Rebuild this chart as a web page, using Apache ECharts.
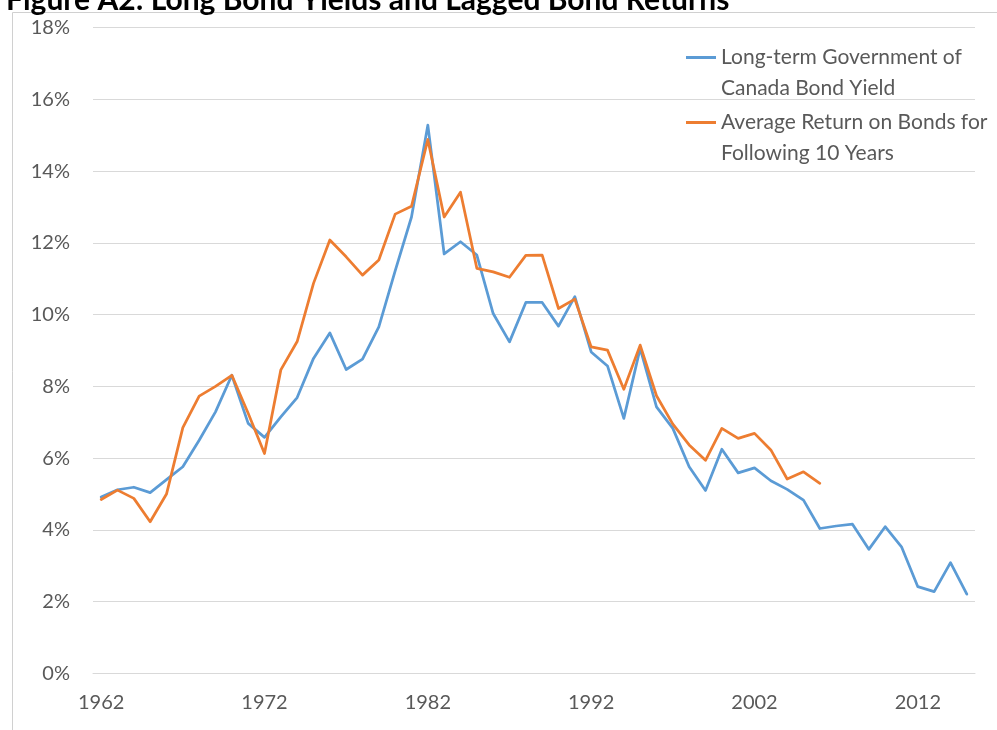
<!DOCTYPE html>
<html>
<head>
<meta charset="utf-8">
<script src="https://cdn.jsdelivr.net/npm/echarts@6/dist/echarts.min.js"></script>
<style>
  html, body { margin: 0; padding: 0; background: #fff; }
  #chart { width: 997px; height: 730px; }
</style>
</head>
<body>
<div id="chart"></div>
<script>
// years on the category axis
const years = []
for (let y = 1962; y <= 2015; y++) years.push(String(y))

// Long-term Government of Canada bond yield (%)
const bondYield = [
  4.92, 5.12, 5.19, 5.04, 5.40, 5.76, 6.50, 7.29, 8.31, 6.97,
  6.58, 7.15, 7.69, 8.78, 9.49, 8.47, 8.76, 9.66, 11.22, 12.72,
  15.28, 11.69, 12.03, 11.66, 10.03, 9.24, 10.34, 10.34, 9.68, 10.50,
  8.96, 8.57, 7.11, 9.06, 7.43, 6.83, 5.76, 5.10, 6.25, 5.59,
  5.73, 5.37, 5.13, 4.83, 4.04, 4.11, 4.16, 3.46, 4.09, 3.53,
  2.42, 2.28, 3.09, 2.21
]

// average return on bonds over the following 10 years (%), ends 2006
const laggedReturn = [
  4.85, 5.11, 4.88, 4.23, 5.00, 6.85, 7.73, 8.00, 8.31, 7.25,
  6.13, 8.46, 9.25, 10.87, 12.08, 11.61, 11.10, 11.52, 12.80, 13.02,
  14.88, 12.72, 13.41, 11.29, 11.19, 11.04, 11.65, 11.66, 10.17, 10.43,
  9.10, 9.01, 7.92, 9.15, 7.74, 6.95, 6.37, 5.94, 6.83, 6.55,
  6.69, 6.23, 5.42, 5.62, 5.30
]

const seriesNames = [
  'Long-term Government of\nCanada Bond Yield',
  'Average Return on Bonds for\nFollowing 10 Years'
]

const font = 'Lato'
const gray = '#595959'
const gridGray = '#d9d9d9'

// short legend line placed level with the first text line
const legendIcon = 'path://M0,14h30v3h-30z M0,0h0.01v0.01z M0,62h0.01v0.01z'

const chart = echarts.init(document.getElementById('chart'))
chart.setOption({
  animation: false,
  color: ['#5b9bd5', '#ed7d31'],
  graphic: [
    {
      type: 'text',
      left: 6,
      top: -15,
      style: {
        text: 'Figure A2: Long Bond Yields and Lagged Bond Returns',
        fontFamily: font,
        fontWeight: 'bold',
        fontSize: 30,
        fill: '#000'
      }
    },
    {
      type: 'rect',
      shape: { x: 12.5, y: 12.5, width: 1000, height: 1000 },
      style: { fill: '#fff', stroke: '#d0d0d0', lineWidth: 1 },
      z: -1
    }
  ],
  grid: { left: 93, right: 22, top: 27.5, bottom: 56.5 },
  legend: {
    orient: 'vertical',
    left: 686,
    top: 42,
    padding: 0,
    itemGap: 3,
    itemWidth: 30,
    itemHeight: 62,
    icon: legendIcon,
    textStyle: { fontFamily: font, fontSize: 21, color: gray, lineHeight: 31 },
    data: seriesNames
  },
  xAxis: {
    type: 'category',
    data: years,
    boundaryGap: true,
    axisTick: { show: false },
    axisLine: { lineStyle: { color: gridGray, width: 1 } },
    axisLabel: {
      interval: i => i % 10 === 0,
      margin: 19,
      fontFamily: font,
      fontSize: 20,
      color: gray
    }
  },
  yAxis: {
    type: 'value',
    min: 0,
    max: 18,
    interval: 2,
    axisLine: { show: false },
    axisTick: { show: false },
    splitLine: { lineStyle: { color: gridGray, width: 1 } },
    axisLabel: {
      formatter: '{value}%',
      margin: 23,
      fontFamily: font,
      fontSize: 20,
      color: gray
    }
  },
  series: [
    {
      name: seriesNames[0],
      type: 'line',
      data: bondYield,
      showSymbol: false,
      lineStyle: { width: 2.75, cap: 'round', join: 'round' }
    },
    {
      name: seriesNames[1],
      type: 'line',
      data: laggedReturn,
      showSymbol: false,
      lineStyle: { width: 2.75, cap: 'round', join: 'round' }
    }
  ]
})
</script>
</body>
</html>
